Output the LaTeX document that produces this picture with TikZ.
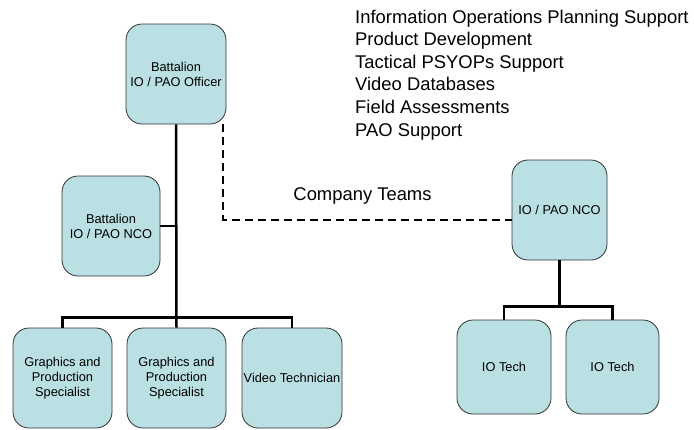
\documentclass[tikz,border=0pt]{standalone}
\usepackage{fontspec}
\setmainfont{Liberation Sans}
\usepackage{tikz}
\usetikzlibrary{positioning}
\definecolor{boxfill}{RGB}{186,224,227}
\definecolor{boxline}{RGB}{50,50,50}

\begin{document}
\begin{tikzpicture}[x=1pt,y=-1pt,
    unit/.style={draw=boxline, fill=boxfill, line width=0.8pt, rounded corners=16pt,
      align=center, inner sep=1pt, font=\fontsize{12.8}{15}\selectfont},
    conn/.style={line width=2.5pt},
    team/.style={line width=2pt, dash pattern=on 8pt off 5pt}]
  \useasboundingbox (0,0) rectangle (694,429);
  % battalion side
  \node[unit, minimum width=100pt, minimum height=100pt] (off) at (176,74) {Battalion\\IO / PAO Officer};
  \node[unit, minimum width=98pt, minimum height=100pt] (bnco) at (111,226) {Battalion\\IO / PAO NCO};
  \node[unit, minimum width=99pt, minimum height=100pt] (gps1) at (62.5,378) {Graphics and\\Production\\Specialist};
  \node[unit, minimum width=99pt, minimum height=100pt] (gps2) at (176.5,378) {Graphics and\\Production\\Specialist};
  \node[unit, minimum width=100pt, minimum height=100pt] (vtech) at (292,378) {Video Technician};
  % company teams
  \node[unit, minimum width=95pt, minimum height=100pt] (nco) at (559.5,210) {IO / PAO NCO};
  \node[unit, minimum width=94pt, minimum height=94pt] (tech1) at (504,367) {IO Tech};
  \node[unit, minimum width=93pt, minimum height=94pt] (tech2) at (612.5,367) {IO Tech};
  \node[anchor=north west, align=left, inner sep=0pt, font=\fontsize{18.4}{22.6}\selectfont]
    (tasks) at (355,9.6) {Information Operations Planning Support\\Product Development\\
    Tactical PSYOPs Support\\Video Databases\\Field Assessments\\PAO Support};

  \draw[conn] (off.south) -- (gps2.north);
  \draw[conn] (bnco.east) -- (bnco.east -| off.south);
  \draw[conn] (gps1.north) -- ++(0,-10) -| (vtech.north);
  \draw[conn] (tech1.north) -- ++(0,-13) coordinate (tbar) -| (tech2.north);
  \draw[conn] (nco.south) -- (nco.south |- tbar);
  \draw[team] ([xshift=-3pt]off.south east) |- node[pos=0.75, above=11pt, xshift=-5pt, font=\fontsize{18.4}{22}\selectfont] {Company Teams} ([yshift=-10pt]nco.west);
\end{tikzpicture}
\end{document}
